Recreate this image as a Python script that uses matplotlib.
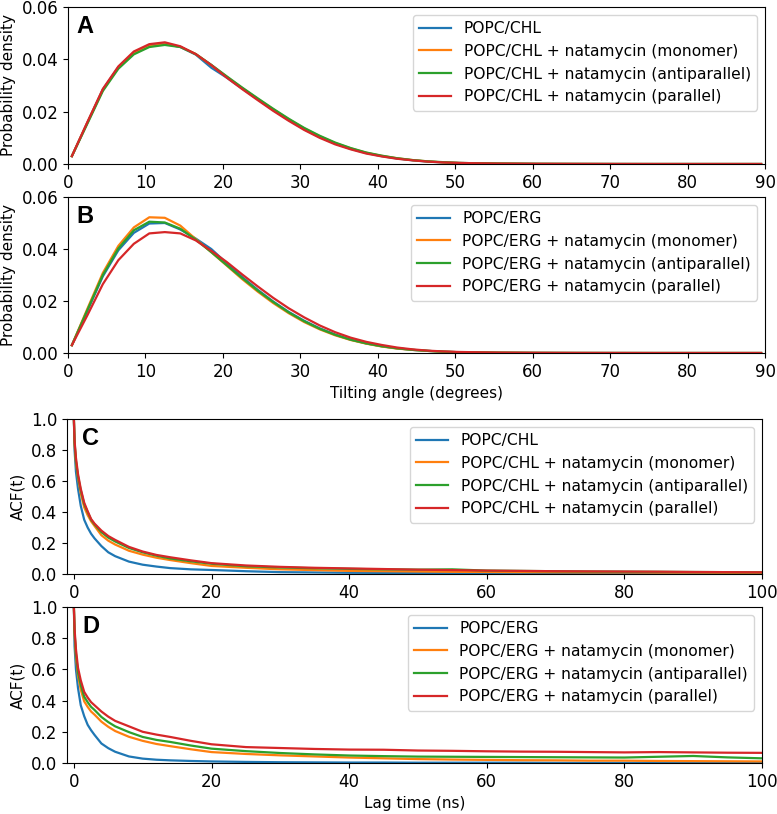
import matplotlib
matplotlib.use("Agg")
import matplotlib.pyplot as plt

# ---- tilting angle distributions (degrees, probability density) ----
angle = [0.5, 2.5, 4.5, 6.5, 8.5, 10.5, 12.5, 14.5, 16.5, 18.5, 20.5, 22.5,
         24.5, 26.5, 28.5, 30.5, 32.5, 34.5, 36.5, 38.5, 40.5, 42.5, 44.5,
         46.5, 48.5, 50.5, 55.5, 60.5, 65.5, 70.5, 75.5, 80.5, 85.5, 89.5]

chl_pure = [0.003, 0.0158, 0.0285, 0.0370, 0.0425, 0.0452, 0.0460, 0.0447, 0.0418, 0.0368,
            0.0330, 0.0288, 0.0247, 0.0206, 0.0168, 0.0133, 0.0103, 0.0078, 0.0058, 0.0042,
            0.0030, 0.0021, 0.0014, 0.0009, 0.0006, 0.0004, 0.00015, 0.00006, 0.00003,
            0.00001, 0.0, 0.0, 0.0, 0.0]
chl_mono = [0.003, 0.0158, 0.0283, 0.0368, 0.0423, 0.0450, 0.0458, 0.0448, 0.0420, 0.0378,
            0.0333, 0.0290, 0.0249, 0.0209, 0.0171, 0.0136, 0.0106, 0.0080, 0.0060, 0.0043,
            0.0031, 0.0022, 0.0015, 0.0010, 0.0006, 0.0004, 0.00015, 0.00006, 0.00003,
            0.00001, 0.0, 0.0, 0.0, 0.0]
chl_anti = [0.003, 0.0154, 0.0279, 0.0364, 0.0419, 0.0447, 0.0455, 0.0447, 0.0420, 0.0379,
            0.0335, 0.0292, 0.0251, 0.0211, 0.0173, 0.0138, 0.0108, 0.0082, 0.0061, 0.0044,
            0.0032, 0.0022, 0.0015, 0.0010, 0.0007, 0.0004, 0.00016, 0.00006, 0.00003,
            0.00001, 0.0, 0.0, 0.0, 0.0]
chl_para = [0.003, 0.0160, 0.0287, 0.0373, 0.0430, 0.0458, 0.0465, 0.0450, 0.0420, 0.0378,
            0.0330, 0.0286, 0.0244, 0.0203, 0.0165, 0.0130, 0.0100, 0.0075, 0.0056, 0.0040,
            0.0029, 0.0020, 0.0014, 0.0009, 0.0006, 0.0004, 0.00015, 0.00006, 0.00003,
            0.00001, 0.0, 0.0, 0.0, 0.0]

erg_pure = [0.003, 0.0162, 0.0295, 0.0395, 0.0462, 0.0498, 0.0500, 0.0475, 0.0440, 0.0400,
            0.0345, 0.0292, 0.0243, 0.0198, 0.0158, 0.0124, 0.0095, 0.0071, 0.0052, 0.0037,
            0.0026, 0.0018, 0.0012, 0.0008, 0.0005, 0.0003, 0.00012, 0.00005, 0.00002,
            0.00001, 0.0, 0.0, 0.0, 0.0]
erg_mono = [0.003, 0.0170, 0.0308, 0.0412, 0.0483, 0.0522, 0.0520, 0.0490, 0.0438, 0.0388,
            0.0336, 0.0284, 0.0236, 0.0192, 0.0153, 0.0119, 0.0091, 0.0068, 0.0050, 0.0036,
            0.0025, 0.0017, 0.0012, 0.0008, 0.0005, 0.0003, 0.00012, 0.00005, 0.00002,
            0.00001, 0.0, 0.0, 0.0, 0.0]
erg_anti = [0.003, 0.0165, 0.0300, 0.0402, 0.0472, 0.0505, 0.0502, 0.0478, 0.0436, 0.0388,
            0.0338, 0.0288, 0.0240, 0.0196, 0.0156, 0.0122, 0.0093, 0.0070, 0.0051, 0.0037,
            0.0026, 0.0018, 0.0012, 0.0008, 0.0005, 0.0003, 0.00012, 0.00005, 0.00002,
            0.00001, 0.0, 0.0, 0.0, 0.0]
erg_para = [0.003, 0.0145, 0.0265, 0.0357, 0.0420, 0.0460, 0.0465, 0.0460, 0.0433, 0.0393,
            0.0350, 0.0302, 0.0256, 0.0212, 0.0172, 0.0137, 0.0106, 0.0080, 0.0059, 0.0043,
            0.0031, 0.0021, 0.0014, 0.0009, 0.0006, 0.0004, 0.00015, 0.00006, 0.00003,
            0.00001, 0.0, 0.0, 0.0, 0.0]

# ---- autocorrelation functions (lag time in ns) ----
lag = [0, 0.1, 0.3, 0.6, 1, 1.5, 2, 2.5, 3, 4, 5, 6, 8, 10, 12, 14, 17, 20, 25, 30,
       35, 40, 45, 50, 55, 60, 65, 70, 75, 80, 85, 90, 95, 100]

acf_chl_pure = [1.0, 0.80, 0.66, 0.55, 0.44, 0.35, 0.30, 0.26, 0.23, 0.18, 0.14, 0.115,
                0.08, 0.060, 0.048, 0.038, 0.030, 0.026, 0.018, 0.012, 0.010, 0.008,
                0.007, 0.006, 0.006, 0.005, 0.005, 0.004, 0.004, 0.004, 0.003, 0.003,
                0.003, 0.003]
acf_chl_mono = [1.0, 0.84, 0.72, 0.62, 0.52, 0.43, 0.38, 0.34, 0.31, 0.25, 0.215, 0.19,
                0.15, 0.125, 0.105, 0.090, 0.070, 0.052, 0.040, 0.030, 0.025, 0.020,
                0.018, 0.016, 0.014, 0.013, 0.012, 0.011, 0.010, 0.010, 0.009, 0.009,
                0.008, 0.008]
acf_chl_anti = [1.0, 0.85, 0.73, 0.63, 0.54, 0.45, 0.40, 0.35, 0.32, 0.27, 0.235, 0.21,
                0.168, 0.140, 0.118, 0.100, 0.082, 0.066, 0.050, 0.042, 0.037, 0.033,
                0.030, 0.028, 0.030, 0.022, 0.020, 0.018, 0.016, 0.015, 0.014, 0.013,
                0.012, 0.011]
acf_chl_para = [1.0, 0.86, 0.75, 0.645, 0.55, 0.46, 0.405, 0.355, 0.325, 0.28, 0.245, 0.22,
                0.175, 0.145, 0.123, 0.108, 0.088, 0.070, 0.055, 0.046, 0.040, 0.036,
                0.032, 0.028, 0.025, 0.022, 0.020, 0.018, 0.017, 0.016, 0.015, 0.013,
                0.012, 0.011]

acf_erg_pure = [1.0, 0.75, 0.60, 0.48, 0.37, 0.30, 0.245, 0.21, 0.18, 0.125, 0.095, 0.072,
                0.042, 0.028, 0.021, 0.017, 0.013, 0.010, 0.007, 0.005, 0.004, 0.003,
                0.003, 0.002, 0.002, 0.002, 0.002, 0.001, 0.001, 0.001, 0.001, 0.001,
                0.001, 0.001]
acf_erg_mono = [1.0, 0.83, 0.68, 0.56, 0.47, 0.395, 0.36, 0.33, 0.31, 0.265, 0.232, 0.205,
                0.168, 0.142, 0.122, 0.108, 0.088, 0.070, 0.058, 0.049, 0.042, 0.035,
                0.030, 0.025, 0.022, 0.020, 0.018, 0.017, 0.015, 0.015, 0.013, 0.012,
                0.011, 0.010]
acf_erg_anti = [1.0, 0.84, 0.70, 0.58, 0.50, 0.425, 0.39, 0.36, 0.34, 0.295, 0.262, 0.235,
                0.198, 0.167, 0.148, 0.135, 0.112, 0.092, 0.076, 0.064, 0.055, 0.048,
                0.044, 0.041, 0.040, 0.039, 0.038, 0.037, 0.036, 0.035, 0.040, 0.045,
                0.036, 0.030]
acf_erg_para = [1.0, 0.86, 0.73, 0.61, 0.53, 0.456, 0.42, 0.39, 0.37, 0.33, 0.297, 0.27,
                0.235, 0.200, 0.182, 0.167, 0.142, 0.120, 0.102, 0.096, 0.090, 0.086,
                0.085, 0.080, 0.078, 0.075, 0.073, 0.072, 0.070, 0.068, 0.070, 0.068,
                0.066, 0.065]

suffixes = ["", " + natamycin (monomer)", " + natamycin (antiparallel)",
            " + natamycin (parallel)"]
colors = ["#1f77b4", "#ff7f0e", "#2ca02c", "#d62728"]

W, H = 777, 814
fig = plt.figure(figsize=(W / 100, H / 100), dpi=100)

def box(left, top, right, bottom):
    return [left / W, 1 - bottom / H, (right - left) / W, (bottom - top) / H]

ax_a = fig.add_axes(box(68, 7, 765, 164))
ax_b = fig.add_axes(box(68, 197, 765, 353))
ax_c = fig.add_axes(box(67, 419, 762, 574))
ax_d = fig.add_axes(box(67, 607, 762, 763))

panels = [
    (ax_a, "A", "POPC/CHL", angle, [chl_pure, chl_mono, chl_anti, chl_para], 0.012),
    (ax_b, "B", "POPC/ERG", angle, [erg_pure, erg_mono, erg_anti, erg_para], 0.012),
    (ax_c, "C", "POPC/CHL", lag, [acf_chl_pure, acf_chl_mono, acf_chl_anti, acf_chl_para], 0.022),
    (ax_d, "D", "POPC/ERG", lag, [acf_erg_pure, acf_erg_mono, acf_erg_anti, acf_erg_para], 0.022),
]

for ax, tag, name, x, series, tag_x in panels:
    for ys, c, suf in zip(series, colors, suffixes):
        ax.plot(x, ys, color=c, lw=1.6, label=name + suf)
    ax.tick_params(labelsize=12)
    ax.legend(loc="upper right", fontsize=11.2, handlelength=2.1,
              borderaxespad=0.5)
    ax.text(tag_x, 0.875, tag, transform=ax.transAxes, fontsize=17,
            fontweight="bold", family="Liberation Sans", va="center")

for ax in (ax_a, ax_b):
    ax.set_xlim(0, 90)
    ax.set_ylim(0, 0.06)
    ax.set_xticks(range(0, 91, 10))
    ax.set_yticks([0, 0.02, 0.04, 0.06])
    ax.set_ylabel("Probability density", fontsize=11)

for ax in (ax_c, ax_d):
    ax.set_xlim(-1, 100)
    ax.set_ylim(0, 1.0)
    ax.set_xticks(range(0, 101, 20))
    ax.set_yticks([0, 0.2, 0.4, 0.6, 0.8, 1.0])
    ax.set_ylabel("ACF(t)", fontsize=11)

ax_b.set_xlabel("Tilting angle (degrees)", fontsize=11)
ax_d.set_xlabel("Lag time (ns)", fontsize=11)

fig.savefig("out.png", dpi=100)
